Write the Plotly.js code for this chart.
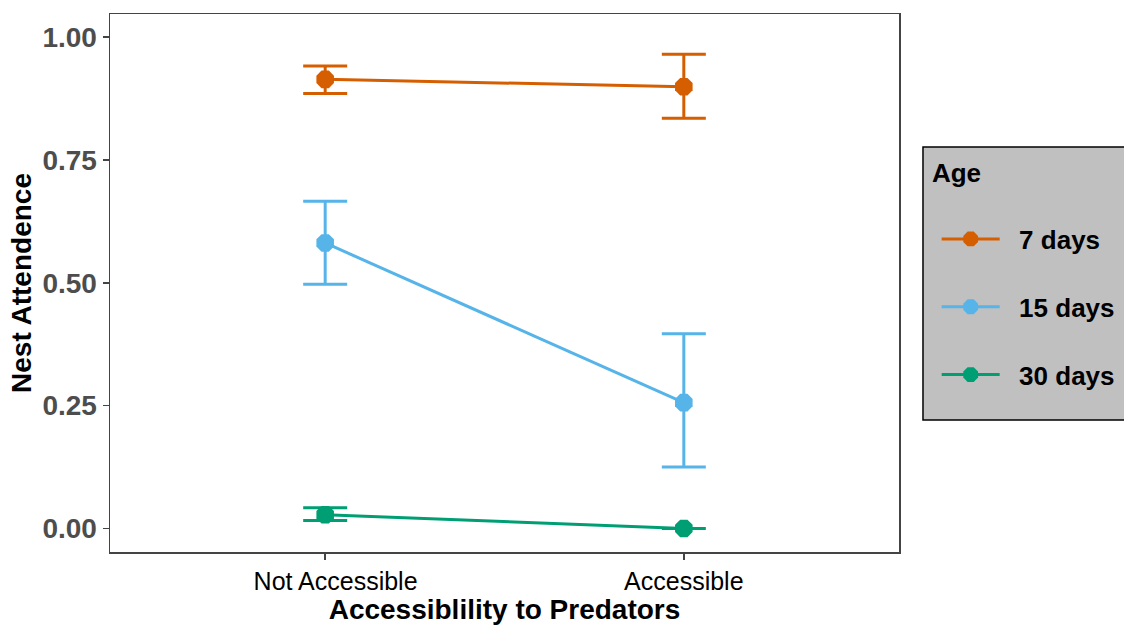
<!DOCTYPE html>
<html>
<head>
<meta charset="utf-8">
<script src="https://cdn.plot.ly/plotly-3.0.1.min.js"></script>
<style>html,body{margin:0;padding:0;background:#fff;}#chart{width:1124px;height:628px;}</style>
</head>
<body>
<div id="chart"></div>
<script>
const categories = ["Not Accessible", "Accessible"];
const tickLabels = ["&nbsp;&nbsp;&nbsp;Not Accessible", "Accessible"];
const seriesNames = ["7 days", "15 days", "30 days"];
const colors = ["#D55E00", "#56B4E9", "#009E73"];
const mean7 = [0.914, 0.899];
const upper7 = [0.941, 0.965];
const lower7 = [0.885, 0.835];
const mean15 = [0.581, 0.256];
const upper15 = [0.666, 0.396];
const lower15 = [0.497, 0.125];
const mean30 = [0.028, 0.0];
const upper30 = [0.042, 0.0];
const lower30 = [0.016, 0.0];

const means = [mean7, mean15, mean30];
const uppers = [upper7, upper15, upper30];
const lowers = [lower7, lower15, lower30];

const traces = seriesNames.map((name, i) => ({
  type: "scatter",
  mode: "lines+markers",
  name: "&nbsp;&nbsp;<b>" + name + "</b>",
  legendgroup: "g" + i,
  x: categories,
  y: means[i],
  line: {color: colors[i], width: 3},
  marker: {color: colors[i], size: 19, symbol: "octagon"},
  error_y: {
    type: "data",
    symmetric: false,
    array: uppers[i].map((u, k) => u - means[i][k]),
    arrayminus: means[i].map((m, k) => m - lowers[i][k]),
    color: colors[i],
    thickness: 3,
    width: 22
  }
}));

const layout = {
  width: 1124,
  height: 628,
  paper_bgcolor: "#ffffff",
  plot_bgcolor: "#ffffff",
  margin: {l: 110, r: 225, t: 14, b: 76, autoexpand: false},
  font: {family: "Liberation Sans, Arial, sans-serif", color: "#000"},
  xaxis: {
    type: "category",
    range: [-0.6, 1.6],
    tickvals: categories,
    ticktext: tickLabels,
    showgrid: false,
    zeroline: false,
    showline: true,
    mirror: true,
    linecolor: "#444",
    linewidth: 1.5,
    ticks: "outside",
    ticklen: 6,
    tickcolor: "#444",
    tickwidth: 1.5,
    tickfont: {family: "Liberation Sans, Arial, sans-serif", size: 25, color: "#000"},
    title: {text: "<b>Accessiblility to Predators</b>", font: {size: 28, color: "#000"}, standoff: 4}
  },
  yaxis: {
    range: [-0.048, 1.047],
    tickvals: [0, 0.25, 0.5, 0.75, 1.0],
    ticktext: ["<b>0.00</b>", "<b>0.25</b>", "<b>0.50</b>", "<b>0.75</b>", "<b>1.00</b>"],
    showgrid: false,
    zeroline: false,
    showline: true,
    mirror: true,
    linecolor: "#444",
    linewidth: 1.5,
    ticks: "outside",
    ticklen: 6,
    tickcolor: "#444",
    tickwidth: 1.5,
    tickfont: {family: "Liberation Sans, Arial, sans-serif", size: 28, color: "#4d4d4d"},
    title: {text: "<b>Nest Attendence</b>", font: {size: 28, color: "#000"}, standoff: 2}
  },
  shapes: [{
    type: "rect",
    xref: "paper", yref: "paper",
    x0: 1.0304, x1: 1.3,
    y0: 0.2454, y1: 0.7528,
    fillcolor: "#c0c0c0",
    line: {color: "#000", width: 1.5},
    layer: "below"
  }],
  legend: {
    x: 1.03,
    xanchor: "left",
    y: 0.751,
    yanchor: "top",
    bgcolor: "rgba(0,0,0,0)",
    borderwidth: 0,
    traceorder: "grouped",
    tracegroupgap: 31,
    indentation: 14,
    title: {text: "&nbsp;<b>Age</b><br> ", font: {size: 26, color: "#000"}},
    font: {size: 26, color: "#000", family: "Liberation Sans, Arial, sans-serif"},
    itemwidth: 58
  },
  showlegend: true
};

Plotly.newPlot("chart", traces, layout, {displayModeBar: false, staticPlot: true});
</script>
</body>
</html>
